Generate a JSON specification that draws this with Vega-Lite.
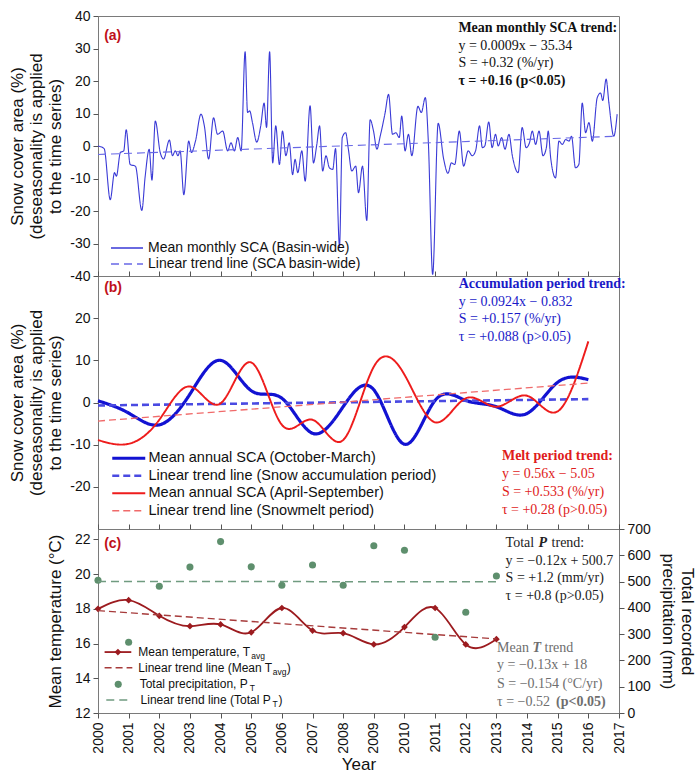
{
"$schema": "https://vega.github.io/schema/vega-lite/v6.json",
"background": "white",
"padding": {"left": 8, "top": 8, "right": 2, "bottom": 2},
"bounds": "flush",
"spacing": 0,
"resolve": {"scale": {"color": "independent", "strokeDash": "independent", "strokeWidth": "independent", "x": "independent", "y": "independent"}, "legend": {"color": "independent", "strokeDash": "independent", "strokeWidth": "independent"}},
"config": {
  "font": "Liberation Sans",
  "view": {"stroke": "#7a7a7a", "strokeWidth": 1},
  "axis": {"grid": false, "domain": false, "labelFont": "Liberation Sans", "titleFont": "Liberation Sans", "labelFontSize": 14, "titleFontSize": 17, "titleFontWeight": "normal", "labelColor": "#111111", "titleColor": "#111111", "tickColor": "#555555", "tickSize": 5, "labelPadding": 3, "labelOverlap": false, "tickCount": 100},
  "legend": {"labelFont": "Liberation Sans", "labelColor": "#111111"}
},
"datasets": {
  "a": [
    {"s":"m","t":2000.0,"v":0},{"s":"m","t":2000.2,"v":-0.8},{"s":"m","t":2000.4,"v":-16.5},{"s":"m","t":2000.54,"v":-8.2},{"s":"m","t":2000.6,"v":-9.3},{"s":"m","t":2000.73,"v":-2},{"s":"m","t":2000.84,"v":-1.5},{"s":"m","t":2000.92,"v":5},
    {"s":"m","t":2001.05,"v":-5.7},{"s":"m","t":2001.22,"v":-6.2},{"s":"m","t":2001.43,"v":-19.8},{"s":"m","t":2001.54,"v":-9.3},{"s":"m","t":2001.67,"v":-1},{"s":"m","t":2001.76,"v":-10.5},{"s":"m","t":2001.87,"v":7.7},
    {"s":"m","t":2002.03,"v":-2},{"s":"m","t":2002.14,"v":-4},{"s":"m","t":2002.33,"v":1.8},{"s":"m","t":2002.43,"v":-3},{"s":"m","t":2002.52,"v":-1.5},{"s":"m","t":2002.61,"v":-3},{"s":"m","t":2002.68,"v":-1.5},{"s":"m","t":2002.8,"v":-15},{"s":"m","t":2002.96,"v":1.5},
    {"s":"m","t":2003.05,"v":-2},{"s":"m","t":2003.18,"v":1.5},{"s":"m","t":2003.36,"v":9.8},{"s":"m","t":2003.47,"v":6.2},{"s":"m","t":2003.61,"v":-4},{"s":"m","t":2003.77,"v":8.7},{"s":"m","t":2003.9,"v":3.6},
    {"s":"m","t":2004.07,"v":4.6},{"s":"m","t":2004.23,"v":-1.5},{"s":"m","t":2004.34,"v":1},{"s":"m","t":2004.45,"v":-1.5},{"s":"m","t":2004.56,"v":2.6},{"s":"m","t":2004.67,"v":-1.5},{"s":"m","t":2004.8,"v":29},{"s":"m","t":2004.88,"v":10.3},{"s":"m","t":2004.95,"v":10.8},
    {"s":"m","t":2005.04,"v":7.2},{"s":"m","t":2005.18,"v":1.2},{"s":"m","t":2005.31,"v":6.2},{"s":"m","t":2005.42,"v":13.2},{"s":"m","t":2005.5,"v":5.7},{"s":"m","t":2005.6,"v":29},{"s":"m","t":2005.7,"v":-5.2},{"s":"m","t":2005.8,"v":6.2},{"s":"m","t":2005.92,"v":-5.7},
    {"s":"m","t":2006.02,"v":4.6},{"s":"m","t":2006.13,"v":-3},{"s":"m","t":2006.24,"v":1},{"s":"m","t":2006.35,"v":-8.8},{"s":"m","t":2006.43,"v":-4.1},{"s":"m","t":2006.52,"v":-8.2},{"s":"m","t":2006.65,"v":-1.5},{"s":"m","t":2006.76,"v":-10.8},{"s":"m","t":2006.92,"v":12.4},
    {"s":"m","t":2007.03,"v":-5.2},{"s":"m","t":2007.14,"v":0.5},{"s":"m","t":2007.23,"v":6.2},{"s":"m","t":2007.33,"v":-7.7},{"s":"m","t":2007.44,"v":-3},{"s":"m","t":2007.55,"v":-6.7},{"s":"m","t":2007.66,"v":-7.2},{"s":"m","t":2007.75,"v":-0.8},{"s":"m","t":2007.88,"v":-30.9},{"s":"m","t":2007.97,"v":2.6},
    {"s":"m","t":2008.08,"v":4.1},{"s":"m","t":2008.17,"v":-1},{"s":"m","t":2008.28,"v":-7.7},{"s":"m","t":2008.41,"v":-6.2},{"s":"m","t":2008.5,"v":-14.4},{"s":"m","t":2008.63,"v":-6.2},{"s":"m","t":2008.77,"v":-22.9},{"s":"m","t":2008.88,"v":8.1},{"s":"m","t":2008.99,"v":4.6},
    {"s":"m","t":2009.1,"v":-1},{"s":"m","t":2009.21,"v":3.1},{"s":"m","t":2009.37,"v":10.3},{"s":"m","t":2009.48,"v":15.9},{"s":"m","t":2009.61,"v":3.6},{"s":"m","t":2009.72,"v":4.1},{"s":"m","t":2009.83,"v":2.6},{"s":"m","t":2009.91,"v":9.2},
    {"s":"m","t":2010.02,"v":-1.5},{"s":"m","t":2010.13,"v":3.6},{"s":"m","t":2010.24,"v":-3},{"s":"m","t":2010.44,"v":12.2},{"s":"m","t":2010.55,"v":10.3},{"s":"m","t":2010.68,"v":14.9},{"s":"m","t":2010.78,"v":1},{"s":"m","t":2010.92,"v":-39.5},
    {"s":"m","t":2011.1,"v":7},{"s":"m","t":2011.28,"v":-4.1},{"s":"m","t":2011.42,"v":-8.4},{"s":"m","t":2011.53,"v":-5.2},{"s":"m","t":2011.64,"v":-5.7},{"s":"m","t":2011.79,"v":4.6},{"s":"m","t":2011.93,"v":-6.2},
    {"s":"m","t":2012.08,"v":-1.5},{"s":"m","t":2012.21,"v":-3},{"s":"m","t":2012.32,"v":-1.5},{"s":"m","t":2012.45,"v":6.2},{"s":"m","t":2012.54,"v":-0.5},{"s":"m","t":2012.62,"v":0},{"s":"m","t":2012.75,"v":7.4},{"s":"m","t":2012.86,"v":-0.5},{"s":"m","t":2012.97,"v":3.6},
    {"s":"m","t":2013.06,"v":0},{"s":"m","t":2013.17,"v":2.6},{"s":"m","t":2013.28,"v":-1},{"s":"m","t":2013.41,"v":3.6},{"s":"m","t":2013.52,"v":-3},{"s":"m","t":2013.71,"v":-8.2},{"s":"m","t":2013.84,"v":5.7},{"s":"m","t":2013.97,"v":-0.5},
    {"s":"m","t":2014.08,"v":1},{"s":"m","t":2014.17,"v":4.6},{"s":"m","t":2014.28,"v":0.5},{"s":"m","t":2014.39,"v":4.6},{"s":"m","t":2014.52,"v":-3},{"s":"m","t":2014.63,"v":-0.5},{"s":"m","t":2014.69,"v":4.6},{"s":"m","t":2014.77,"v":-3.6},{"s":"m","t":2014.93,"v":-9.8},
    {"s":"m","t":2015.04,"v":1.5},{"s":"m","t":2015.15,"v":0.5},{"s":"m","t":2015.26,"v":2},{"s":"m","t":2015.37,"v":1.5},{"s":"m","t":2015.45,"v":3},{"s":"m","t":2015.58,"v":-6.7},{"s":"m","t":2015.69,"v":-5.7},{"s":"m","t":2015.8,"v":13.2},{"s":"m","t":2015.91,"v":4.1},
    {"s":"m","t":2016.02,"v":7.2},{"s":"m","t":2016.13,"v":1.5},{"s":"m","t":2016.29,"v":14.9},{"s":"m","t":2016.4,"v":16.3},{"s":"m","t":2016.47,"v":14},{"s":"m","t":2016.58,"v":20.6},{"s":"m","t":2016.67,"v":13.3},{"s":"m","t":2016.83,"v":3},{"s":"m","t":2016.94,"v":9.8},
    {"s":"t","t":2000.0,"v":-2.6},{"s":"t","t":2016.92,"v":3.0}
  ],
  "b": [
    {"s":"A","year":2000,"v":0.4},{"s":"A","year":2001,"v":-2.5},{"s":"A","year":2002,"v":-5.3},{"s":"A","year":2003,"v":2},{"s":"A","year":2004,"v":10},{"s":"A","year":2005,"v":2.8},{"s":"A","year":2006,"v":1},{"s":"A","year":2007,"v":-7.3},{"s":"A","year":2008,"v":-1},{"s":"A","year":2009,"v":3},{"s":"A","year":2010,"v":-9.9},{"s":"A","year":2011,"v":0.5},{"s":"A","year":2012,"v":0.5},{"s":"A","year":2013,"v":-1},{"s":"A","year":2014,"v":-2.6},{"s":"A","year":2015,"v":4.8},{"s":"A","year":2016,"v":5.4},
    {"s":"At","year":2000,"v":-0.7},{"s":"At","year":2016,"v":0.8},
    {"s":"M","year":2000,"v":-8.9},{"s":"M","year":2001,"v":-9.8},{"s":"M","year":2002,"v":-4.1},{"s":"M","year":2003,"v":3.8},{"s":"M","year":2004,"v":-0.2},{"s":"M","year":2005,"v":9.5},{"s":"M","year":2006,"v":-5.3},{"s":"M","year":2007,"v":-4.1},{"s":"M","year":2008,"v":-8.9},{"s":"M","year":2009,"v":8.5},{"s":"M","year":2010,"v":6.6},{"s":"M","year":2011,"v":-4.7},{"s":"M","year":2012,"v":1},{"s":"M","year":2013,"v":-1},{"s":"M","year":2014,"v":1.6},{"s":"M","year":2015,"v":-2.1},{"s":"M","year":2016,"v":14.5},
    {"s":"Mt","year":2000,"v":-4.4},{"s":"Mt","year":2016,"v":4.6}
  ],
  "cT": [
    {"year":2000,"temp":18.0},{"year":2001,"temp":18.5},{"year":2002,"temp":17.6},{"year":2003,"temp":17.0},{"year":2004,"temp":17.1},{"year":2005,"temp":16.65},{"year":2006,"temp":18.05},{"year":2007,"temp":16.75},{"year":2008,"temp":16.6},{"year":2009,"temp":15.95},{"year":2010,"temp":16.95},{"year":2011,"temp":18.05},{"year":2012,"temp":15.95},{"year":2013,"temp":16.25}
  ],
  "cTtr": [{"year":2000,"temp":17.9},{"year":2013,"temp":16.27}],
  "cP": [
    {"year":2000,"mm":505},{"year":2001,"mm":269},{"year":2002,"mm":482},{"year":2003,"mm":555},{"year":2004,"mm":652},{"year":2005,"mm":556},{"year":2006,"mm":486},{"year":2007,"mm":563},{"year":2008,"mm":486},{"year":2009,"mm":636},{"year":2010,"mm":619},{"year":2011,"mm":288},{"year":2012,"mm":383},{"year":2013,"mm":521}
  ],
  "cPtr": [{"year":2000,"mm":500.6},{"year":2013,"mm":499.1}]
},
"vconcat": [
 {
  "width": 521, "height": 260,
  "layer": [
   {
    "data": {"name": "a"},
    "mark": {"type": "line", "interpolate": "monotone", "strokeWidth": 1.1},
    "encoding": {
      "x": {"field": "t", "type": "quantitative", "scale": {"domain": [2000, 2017], "nice": false, "zero": false}, "axis": null},
      "y": {"field": "v", "type": "quantitative", "scale": {"domain": [-40, 40], "nice": false}, "axis": {"values": [-40,-30,-20,-10,0,10,20,30,40], "tickCount": 100, "labelExpr": "toString(datum.value)", "title": ["Snow cover area (%)", "(deseasonality is applied", "to the time series)"], "titleLineHeight": 19, "titlePadding": 5}},
      "color": {"field": "s", "type": "nominal", "scale": {"domain": ["m","t"], "range": ["#3a3ad6", "#6868e6"]},
        "legend": {"title": null, "orient": "none", "legendX": 11, "legendY": 225, "padding": 0, "rowPadding": 2, "symbolType": "M-1,0H5.4", "symbolSize": 100, "symbolStrokeWidth": 1.3, "labelFontSize": 14, "labelOffset": 25, "labelLimit": 400, "labelExpr": "datum.label == 'm' ? 'Mean monthly SCA (Basin-wide)' : 'Linear trend line (SCA basin-wide)'"}},
      "strokeDash": {"field": "s", "type": "nominal", "scale": {"domain": ["m","t"], "range": [[1,0],[8,5]]},
        "legend": {"title": null, "orient": "none", "legendX": 11, "legendY": 225, "padding": 0, "rowPadding": 2, "symbolType": "M-1,0H5.4", "symbolSize": 100, "symbolStrokeWidth": 1.3, "labelFontSize": 14, "labelOffset": 25, "labelLimit": 400, "labelExpr": "datum.label == 'm' ? 'Mean monthly SCA (Basin-wide)' : 'Linear trend line (SCA basin-wide)'"}}
    }
   },
   {"data": {"values": [{}]}, "mark": {"type": "text", "text": "(a)", "fontSize": 14, "fontWeight": "bold", "color": "#c0101a", "align": "left", "baseline": "middle"}, "encoding": {"x": {"datum": 2000.2}, "y": {"datum": 33.8}}},
   {"data": {"values": [{}]}, "mark": {"type": "text", "text": "Mean monthly SCA trend:", "font": "Liberation Serif", "fontSize": 14, "fontWeight": "bold", "color": "#111111", "align": "left", "baseline": "middle"}, "encoding": {"x": {"datum": 2011.76}, "y": {"datum": 36.3}}},
   {"data": {"values": [{}]}, "mark": {"type": "text", "text": "y = 0.0009x − 35.34", "font": "Liberation Serif", "fontSize": 14, "color": "#111111", "align": "left", "baseline": "middle"}, "encoding": {"x": {"datum": 2011.76}, "y": {"datum": 30.8}}},
   {"data": {"values": [{}]}, "mark": {"type": "text", "text": "S = +0.32 (%/yr)", "font": "Liberation Serif", "fontSize": 14, "color": "#111111", "align": "left", "baseline": "middle"}, "encoding": {"x": {"datum": 2011.76}, "y": {"datum": 25.5}}},
   {"data": {"values": [{}]}, "mark": {"type": "text", "text": "τ = +0.16 (p<0.05)", "font": "Liberation Serif", "fontSize": 14, "fontWeight": "bold", "color": "#111111", "align": "left", "baseline": "middle"}, "encoding": {"x": {"datum": 2011.76}, "y": {"datum": 20.0}}}
  ]
 },
 {
  "width": 521, "height": 253,
  "layer": [
   {
    "data": {"name": "b"},
    "mark": {"type": "line", "interpolate": "natural"},
    "encoding": {
      "x": {"field": "year", "type": "quantitative", "scale": {"domain": [2000, 2017], "nice": false, "zero": false}, "axis": {"orient": "top", "labels": false, "title": null, "tickCount": 100, "values": [2000,2001,2002,2003,2004,2005,2006,2007,2008,2009,2010,2011,2012,2013,2014,2015,2016,2017]}},
      "y": {"field": "v", "type": "quantitative", "scale": {"domain": [-30, 30], "nice": false}, "axis": {"values": [-20,-10,0,10,20], "tickCount": 100, "labelExpr": "toString(datum.value)", "title": ["Snow cover area (%)", "(deseasonality is applied", "to the time series)"], "titleLineHeight": 19, "titlePadding": 5}},
      "color": {"field": "s", "type": "nominal", "scale": {"domain": ["A","At","M","Mt"], "range": ["#1212d2", "#4a4ae2", "#ee1c1c", "#f06a6a"]},
        "legend": {"title": null, "orient": "none", "legendX": 12, "legendY": 175, "padding": 0, "rowPadding": 2.5, "symbolType": "M-1,0H5.6", "symbolSize": 100, "labelFontSize": 14.5, "labelOffset": 24, "labelLimit": 400, "labelExpr": "{'A':'Mean annual SCA (October-March)','At':'Linear trend line (Snow accumulation period)','M':'Mean annual SCA (April-September)','Mt':'Linear trend line (Snowmelt period)'}[datum.label]"}},
      "strokeDash": {"field": "s", "type": "nominal", "scale": {"domain": ["A","At","M","Mt"], "range": [[1,0],[7,4],[1,0],[7,4]]},
        "legend": {"title": null, "orient": "none", "legendX": 12, "legendY": 175, "padding": 0, "rowPadding": 2.5, "symbolType": "M-1,0H5.6", "symbolSize": 100, "labelFontSize": 14.5, "labelOffset": 24, "labelLimit": 400, "labelExpr": "{'A':'Mean annual SCA (October-March)','At':'Linear trend line (Snow accumulation period)','M':'Mean annual SCA (April-September)','Mt':'Linear trend line (Snowmelt period)'}[datum.label]"}},
      "strokeWidth": {"field": "s", "type": "nominal", "scale": {"domain": ["A","At","M","Mt"], "range": [3.2, 1.3, 3.2, 1.3]},
        "legend": {"title": null, "orient": "none", "legendX": 12, "legendY": 175, "padding": 0, "rowPadding": 2.5, "symbolType": "M-1,0H5.6", "symbolSize": 100, "labelFontSize": 14.5, "labelOffset": 24, "labelLimit": 400, "labelExpr": "{'A':'Mean annual SCA (October-March)','At':'Linear trend line (Snow accumulation period)','M':'Mean annual SCA (April-September)','Mt':'Linear trend line (Snowmelt period)'}[datum.label]"}}
    }
   },
   {"data": {"values": [{}]}, "mark": {"type": "text", "text": "(b)", "fontSize": 14, "fontWeight": "bold", "color": "#c0101a", "align": "left", "baseline": "middle"}, "encoding": {"x": {"datum": 2000.2}, "y": {"datum": 27.2}}},
   {"data": {"values": [{}]}, "mark": {"type": "text", "text": "Accumulation period trend:", "font": "Liberation Serif", "fontSize": 14, "fontWeight": "bold", "color": "#1a1ac8", "align": "left", "baseline": "middle"}, "encoding": {"x": {"datum": 2011.77}, "y": {"datum": 28.1}}},
   {"data": {"values": [{}]}, "mark": {"type": "text", "text": "y = 0.0924x − 0.832", "font": "Liberation Serif", "fontSize": 14, "color": "#1a1ac8", "align": "left", "baseline": "middle"}, "encoding": {"x": {"datum": 2011.77}, "y": {"datum": 23.9}}},
   {"data": {"values": [{}]}, "mark": {"type": "text", "text": "S = +0.157 (%/yr)", "font": "Liberation Serif", "fontSize": 14, "color": "#1a1ac8", "align": "left", "baseline": "middle"}, "encoding": {"x": {"datum": 2011.77}, "y": {"datum": 19.7}}},
   {"data": {"values": [{}]}, "mark": {"type": "text", "text": "τ = +0.088 (p>0.05)", "font": "Liberation Serif", "fontSize": 14, "color": "#1a1ac8", "align": "left", "baseline": "middle"}, "encoding": {"x": {"datum": 2011.77}, "y": {"datum": 15.6}}},
   {"data": {"values": [{}]}, "mark": {"type": "text", "text": "Melt period trend:", "font": "Liberation Serif", "fontSize": 14, "fontWeight": "bold", "color": "#e01c1c", "align": "left", "baseline": "middle"}, "encoding": {"x": {"datum": 2013.18}, "y": {"datum": -12.7}}},
   {"data": {"values": [{}]}, "mark": {"type": "text", "text": "y = 0.56x − 5.05", "font": "Liberation Serif", "fontSize": 14, "color": "#e01c1c", "align": "left", "baseline": "middle"}, "encoding": {"x": {"datum": 2013.18}, "y": {"datum": -16.9}}},
   {"data": {"values": [{}]}, "mark": {"type": "text", "text": "S = +0.533 (%/yr)", "font": "Liberation Serif", "fontSize": 14, "color": "#e01c1c", "align": "left", "baseline": "middle"}, "encoding": {"x": {"datum": 2013.18}, "y": {"datum": -21.2}}},
   {"data": {"values": [{}]}, "mark": {"type": "text", "text": "τ = +0.28 (p>0.05)", "font": "Liberation Serif", "fontSize": 14, "color": "#e01c1c", "align": "left", "baseline": "middle"}, "encoding": {"x": {"datum": 2013.18}, "y": {"datum": -25.4}}}
  ]
 },
 {
  "width": 521, "height": 184,
  "resolve": {"scale": {"y": "independent"}, "axis": {"x": "independent"}},
  "layer": [
   {
    "layer": [
     {
      "data": {"name": "cT"},
      "mark": {"type": "line", "interpolate": "natural", "color": "#9c1b1f", "strokeWidth": 1.8, "point": {"shape": "diamond", "size": 45, "filled": true, "color": "#9c1b1f"}},
      "encoding": {
        "x": {"field": "year", "type": "quantitative", "scale": {"domain": [2000, 2017], "nice": false, "zero": false}, "axis": {"orient": "bottom", "values": [2000,2001,2002,2003,2004,2005,2006,2007,2008,2009,2010,2011,2012,2013,2014,2015,2016,2017], "tickCount": 100, "format": "d", "labelAngle": -90, "labelAlign": "right", "labelBaseline": "middle", "labelFlush": false, "labelOverlap": false, "labelPadding": 4, "title": "Year", "titlePadding": 3}},
        "y": {"field": "temp", "type": "quantitative", "scale": {"domain": [12, 22.6], "nice": false, "zero": false}, "axis": {"values": [12,14,16,18,20,22], "tickCount": 100, "format": "d", "title": "Mean temperature (°C)", "titlePadding": 10}}
      }
     },
     {
      "data": {"name": "cTtr"},
      "mark": {"type": "line", "color": "#a63a3a", "strokeWidth": 1.4, "strokeDash": [7,4]},
      "encoding": {"x": {"field": "year", "type": "quantitative"}, "y": {"field": "temp", "type": "quantitative"}}
     },
     {"data": {"values": [{}]}, "mark": {"type": "text", "text": "(c)", "fontSize": 14, "fontWeight": "bold", "color": "#c0101a", "align": "left", "baseline": "middle"}, "encoding": {"x": {"datum": 2000.2}, "y": {"datum": 21.75}}},
     {"data": {"values": [{}]}, "mark": {"type": "text", "text": "Total", "font": "Liberation Serif", "fontSize": 14, "color": "#222222", "align": "left", "baseline": "middle"}, "encoding": {"x": {"datum": 2013.3}, "y": {"datum": 21.81}}},
     {"data": {"values": [{}]}, "mark": {"type": "text", "text": "P", "font": "Liberation Serif", "fontSize": 14, "fontWeight": "bold", "fontStyle": "italic", "color": "#222222", "align": "left", "baseline": "middle", "dx": 33}, "encoding": {"x": {"datum": 2013.3}, "y": {"datum": 21.81}}},
     {"data": {"values": [{}]}, "mark": {"type": "text", "text": "trend:", "font": "Liberation Serif", "fontSize": 14, "color": "#222222", "align": "left", "baseline": "middle", "dx": 46}, "encoding": {"x": {"datum": 2013.3}, "y": {"datum": 21.81}}},
     {"data": {"values": [{}]}, "mark": {"type": "text", "text": "y = −0.12x + 500.7", "font": "Liberation Serif", "fontSize": 14, "color": "#222222", "align": "left", "baseline": "middle"}, "encoding": {"x": {"datum": 2013.3}, "y": {"datum": 20.76}}},
     {"data": {"values": [{}]}, "mark": {"type": "text", "text": "S = +1.2 (mm/yr)", "font": "Liberation Serif", "fontSize": 14, "color": "#222222", "align": "left", "baseline": "middle"}, "encoding": {"x": {"datum": 2013.3}, "y": {"datum": 19.76}}},
     {"data": {"values": [{}]}, "mark": {"type": "text", "text": "τ = +0.8 (p>0.05)", "font": "Liberation Serif", "fontSize": 14, "color": "#222222", "align": "left", "baseline": "middle"}, "encoding": {"x": {"datum": 2013.3}, "y": {"datum": 18.74}}},
     {"data": {"values": [{}]}, "mark": {"type": "text", "text": "Mean", "font": "Liberation Serif", "fontSize": 14, "color": "#6e6e6e", "align": "left", "baseline": "middle"}, "encoding": {"x": {"datum": 2013.02}, "y": {"datum": 15.76}}},
     {"data": {"values": [{}]}, "mark": {"type": "text", "text": "T", "font": "Liberation Serif", "fontSize": 14, "fontWeight": "bold", "fontStyle": "italic", "color": "#6e6e6e", "align": "left", "baseline": "middle", "dx": 35.5}, "encoding": {"x": {"datum": 2013.02}, "y": {"datum": 15.76}}},
     {"data": {"values": [{}]}, "mark": {"type": "text", "text": "trend", "font": "Liberation Serif", "fontSize": 14, "color": "#6e6e6e", "align": "left", "baseline": "middle", "dx": 47.5}, "encoding": {"x": {"datum": 2013.02}, "y": {"datum": 15.76}}},
     {"data": {"values": [{}]}, "mark": {"type": "text", "text": "y = −0.13x + 18", "font": "Liberation Serif", "fontSize": 14, "color": "#6e6e6e", "align": "left", "baseline": "middle"}, "encoding": {"x": {"datum": 2013.02}, "y": {"datum": 14.75}}},
     {"data": {"values": [{}]}, "mark": {"type": "text", "text": "S = −0.154 (°C/yr)", "font": "Liberation Serif", "fontSize": 14, "color": "#6e6e6e", "align": "left", "baseline": "middle"}, "encoding": {"x": {"datum": 2013.02}, "y": {"datum": 13.65}}},
     {"data": {"values": [{}]}, "mark": {"type": "text", "text": "τ = −0.52", "font": "Liberation Serif", "fontSize": 14, "color": "#6e6e6e", "align": "left", "baseline": "middle"}, "encoding": {"x": {"datum": 2013.02}, "y": {"datum": 12.63}}},
     {"data": {"values": [{}]}, "mark": {"type": "text", "text": "(p<0.05)", "font": "Liberation Serif", "fontSize": 14, "fontWeight": "bold", "color": "#6e6e6e", "align": "left", "baseline": "middle", "dx": 59}, "encoding": {"x": {"datum": 2013.02}, "y": {"datum": 12.63}}},
     {"data": {"values": [{}]}, "mark": {"type": "rule", "color": "#9c1b1f", "strokeWidth": 1.8}, "encoding": {"x": {"datum": 2000.215}, "x2": {"datum": 2001.086}, "y": {"datum": 15.51}}},
     {"data": {"values": [{}]}, "mark": {"type": "point", "shape": "diamond", "size": 45, "filled": true, "opacity": 1, "color": "#9c1b1f"}, "encoding": {"x": {"datum": 2000.65}, "y": {"datum": 15.51}}},
     {"data": {"values": [{}]}, "mark": {"type": "rule", "color": "#a63a3a", "strokeWidth": 1.4, "strokeDash": [7,4]}, "encoding": {"x": {"datum": 2000.215}, "x2": {"datum": 2001.12}, "y": {"datum": 14.61}}},
     {"data": {"values": [{}]}, "mark": {"type": "point", "shape": "circle", "size": 50, "filled": true, "opacity": 1, "color": "#5e8f6d"}, "encoding": {"x": {"datum": 2000.66}, "y": {"datum": 13.65}}},
     {"data": {"values": [{}]}, "mark": {"type": "rule", "color": "#709b80", "strokeWidth": 1.5, "strokeDash": [8,5]}, "encoding": {"x": {"datum": 2000.27}, "x2": {"datum": 2001.1}, "y": {"datum": 12.75}}},
     {"data": {"values": [{}]}, "mark": {"type": "text", "text": "Mean temperature, T", "fontSize": 12, "color": "#111111", "align": "left", "baseline": "middle"}, "encoding": {"x": {"datum": 2001.315}, "y": {"datum": 15.51}}},
     {"data": {"values": [{}]}, "mark": {"type": "text", "text": "avg", "fontSize": 8.5, "color": "#111111", "align": "left", "baseline": "middle", "dx": 113, "dy": 4}, "encoding": {"x": {"datum": 2001.315}, "y": {"datum": 15.51}}},
     {"data": {"values": [{}]}, "mark": {"type": "text", "text": "Linear trend line (Mean T", "fontSize": 12, "color": "#111111", "align": "left", "baseline": "middle"}, "encoding": {"x": {"datum": 2001.315}, "y": {"datum": 14.61}}},
     {"data": {"values": [{}]}, "mark": {"type": "text", "text": "avg", "fontSize": 8.5, "color": "#111111", "align": "left", "baseline": "middle", "dx": 134.5, "dy": 4}, "encoding": {"x": {"datum": 2001.315}, "y": {"datum": 14.61}}},
     {"data": {"values": [{}]}, "mark": {"type": "text", "text": ")", "fontSize": 12, "color": "#111111", "align": "left", "baseline": "middle", "dx": 148.5}, "encoding": {"x": {"datum": 2001.315}, "y": {"datum": 14.61}}},
     {"data": {"values": [{}]}, "mark": {"type": "text", "text": "Total precipitation, P", "fontSize": 12, "color": "#111111", "align": "left", "baseline": "middle"}, "encoding": {"x": {"datum": 2001.36}, "y": {"datum": 13.65}}},
     {"data": {"values": [{}]}, "mark": {"type": "text", "text": "T", "fontSize": 8.5, "color": "#111111", "align": "left", "baseline": "middle", "dx": 110, "dy": 4}, "encoding": {"x": {"datum": 2001.36}, "y": {"datum": 13.65}}},
     {"data": {"values": [{}]}, "mark": {"type": "text", "text": "Linear trend line (Total P", "fontSize": 12, "color": "#111111", "align": "left", "baseline": "middle"}, "encoding": {"x": {"datum": 2001.39}, "y": {"datum": 12.75}}},
     {"data": {"values": [{}]}, "mark": {"type": "text", "text": "T", "fontSize": 8.5, "color": "#111111", "align": "left", "baseline": "middle", "dx": 132, "dy": 4}, "encoding": {"x": {"datum": 2001.39}, "y": {"datum": 12.75}}},
     {"data": {"values": [{}]}, "mark": {"type": "text", "text": ")", "fontSize": 12, "color": "#111111", "align": "left", "baseline": "middle", "dx": 138}, "encoding": {"x": {"datum": 2001.39}, "y": {"datum": 12.75}}}
    ]
   },
   {
    "layer": [
     {
      "data": {"name": "cP"},
      "mark": {"type": "point", "shape": "circle", "size": 50, "filled": true, "opacity": 1, "color": "#5e8f6d"},
      "encoding": {
        "x": {"field": "year", "type": "quantitative", "scale": {"domain": [2000, 2017], "nice": false, "zero": false}, "axis": {"orient": "top", "labels": false, "title": null, "tickCount": 100, "values": [2000,2001,2002,2003,2004,2005,2006,2007,2008,2009,2010,2011,2012,2013,2014,2015,2016,2017]}},
        "y": {"field": "mm", "type": "quantitative", "scale": {"domain": [0, 700], "nice": false}, "axis": {"orient": "right", "values": [0,100,200,300,400,500,600,700], "tickCount": 100, "title": ["Total recorded", "precipitation (mm)"], "titleLineHeight": 19, "titlePadding": 8}}
      }
     },
     {
      "data": {"name": "cPtr"},
      "mark": {"type": "line", "color": "#709b80", "strokeWidth": 1.5, "strokeDash": [8,5]},
      "encoding": {"x": {"field": "year", "type": "quantitative"}, "y": {"field": "mm", "type": "quantitative"}}
     }
    ]
   }
  ]
 }
]
}
